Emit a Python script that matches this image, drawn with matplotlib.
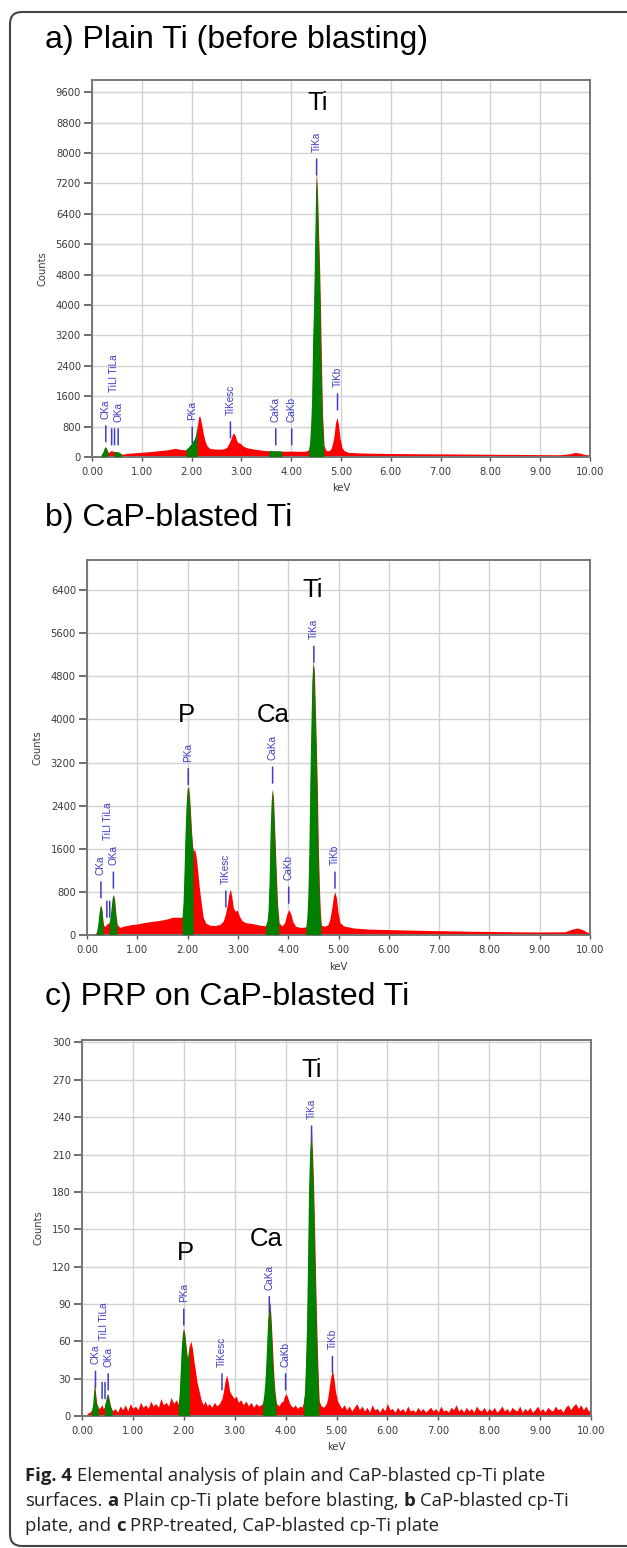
import numpy as np
import matplotlib
matplotlib.use("Agg")
import matplotlib.pyplot as plt
from matplotlib.patches import FancyBboxPatch
from matplotlib.transforms import IdentityTransform

## DATA (keV, counts)
spectrum_a = [(0.10,0),(0.15,30),(0.20,60),(0.23,130),(0.26,240),(0.28,260),(0.30,200),(0.33,110),
    (0.36,150),(0.39,170),(0.42,150),(0.45,140),(0.48,130),(0.51,125),(0.54,120),(0.57,95),(0.60,70),
    (0.70,95),(0.80,105),(0.90,115),(1.00,125),(1.10,135),(1.20,145),(1.30,160),(1.40,175),(1.50,185),
    (1.60,210),(1.67,230),(1.75,205),(1.85,190),(1.90,195),(1.94,240),(1.98,300),(2.02,380),(2.06,450),
    (2.09,560),(2.12,850),(2.14,1040),(2.16,1090),(2.18,1000),(2.21,800),(2.24,580),(2.27,420),(2.31,290),
    (2.36,230),(2.45,210),(2.55,205),(2.65,215),(2.71,260),(2.75,360),(2.79,480),(2.82,590),(2.84,630),
    (2.87,580),(2.90,450),(2.93,370),(2.96,380),(2.99,340),(3.04,280),(3.12,240),(3.25,210),(3.40,180),
    (3.56,160),(3.70,150),(3.82,150),(4.00,155),(4.15,150),(4.30,155),(4.36,200),(4.38,370),(4.40,800),
    (4.42,1500),(4.44,3000),(4.46,4000),(4.48,5500),(4.50,7000),(4.51,7450),(4.53,6900),(4.55,5900),
    (4.57,5000),(4.59,3800),(4.61,2300),(4.63,1100),(4.66,300),(4.70,170),(4.76,165),(4.80,220),(4.83,350),
    (4.86,550),(4.89,900),(4.92,1040),(4.95,850),(4.98,500),(5.02,250),(5.06,170),(5.15,120),(5.40,105),
    (5.80,95),(6.20,90),(6.60,85),(7.00,82),(7.50,78),(8.00,72),(8.50,68),(9.00,62),(9.40,60),(9.60,85),
    (9.70,120),(9.80,100),(9.90,65),(10.00,55)]

spectrum_b = [(0.10,0),(0.15,20),(0.20,60),(0.22,150),(0.24,330),(0.26,480),(0.28,550),(0.30,450),
    (0.32,250),(0.33,180),(0.36,160),(0.40,210),(0.45,230),(0.47,330),(0.49,500),(0.51,680),(0.53,740),
    (0.55,650),(0.57,430),(0.60,200),(0.65,140),(0.75,170),(0.90,195),(1.00,205),(1.10,225),(1.20,240),
    (1.30,255),(1.40,265),(1.50,280),(1.60,300),(1.70,330),(1.80,330),(1.90,330),(1.92,600),(1.94,1200),
    (1.96,1900),(1.98,2400),(2.00,2700),(2.02,2750),(2.04,2550),(2.06,2250),(2.08,1900),(2.10,1650),
    (2.12,1550),(2.14,1600),(2.17,1450),(2.20,1200),(2.23,900),(2.27,600),(2.31,330),(2.36,220),(2.45,180),
    (2.55,175),(2.65,200),(2.71,260),(2.75,380),(2.79,560),(2.82,760),(2.85,850),(2.88,700),(2.91,500),
    (2.95,440),(2.99,460),(3.03,350),(3.08,270),(3.15,230),(3.30,210),(3.45,180),(3.56,170),(3.59,260),
    (3.61,450),(3.63,1000),(3.65,1900),(3.67,2450),(3.69,2700),(3.71,2500),(3.73,2000),(3.75,1500),
    (3.77,1000),(3.79,550),(3.82,220),(3.88,170),(3.93,230),(3.97,380),(4.01,470),(4.05,400),(4.09,250),
    (4.15,160),(4.25,140),(4.36,150),(4.38,300),(4.40,700),(4.42,1500),(4.44,2800),(4.46,3800),(4.48,4700),
    (4.50,5060),(4.52,4900),(4.54,4200),(4.56,3500),(4.58,2700),(4.60,1600),(4.62,900),(4.64,400),
    (4.66,180),(4.72,160),(4.79,190),(4.83,300),(4.87,520),(4.90,720),(4.93,800),(4.96,680),(4.99,420),
    (5.03,230),(5.10,170),(5.30,130),(5.60,110),(6.00,100),(6.50,90),(7.00,80),(7.50,72),(8.00,65),
    (8.50,60),(9.00,55),(9.50,60),(9.65,110),(9.75,130),(9.85,100),(9.95,50),(10.00,45)]

spectrum_c = [(0.10,2),(0.15,3),(0.20,5),(0.22,9),(0.24,20),(0.25,25),(0.27,17),(0.29,10),(0.31,8),
    (0.33,6),(0.36,7),(0.39,9),(0.42,6),(0.45,8),(0.47,11),(0.49,15),(0.51,18),(0.53,14),(0.56,8),
    (0.60,4),(0.65,6),(0.70,3),(0.75,8),(0.80,5),(0.85,9),(0.90,4),(0.95,10),(1.00,6),(1.05,8),(1.10,5),
    (1.15,11),(1.20,7),(1.25,9),(1.30,6),(1.35,12),(1.40,8),(1.45,10),(1.50,7),(1.55,14),(1.60,9),
    (1.65,11),(1.70,8),(1.75,15),(1.80,10),(1.85,13),(1.90,9),(1.92,18),(1.94,35),(1.96,55),(1.98,65),
    (2.00,70),(2.02,66),(2.04,58),(2.06,50),(2.08,45),(2.10,52),(2.12,58),(2.14,60),(2.17,54),(2.20,44),
    (2.23,36),(2.26,27),(2.30,20),(2.34,13),(2.38,9),(2.42,12),(2.46,8),(2.50,10),(2.55,7),(2.60,11),
    (2.65,8),(2.70,10),(2.75,14),(2.78,20),(2.81,28),(2.84,33),(2.87,28),(2.90,20),(2.94,17),(2.99,14),
    (3.03,16),(3.07,11),(3.12,13),(3.17,9),(3.22,12),(3.27,8),(3.32,11),(3.37,7),(3.42,10),(3.47,8),
    (3.52,9),(3.56,11),(3.58,16),(3.60,25),(3.62,40),(3.64,60),(3.66,78),(3.68,88),(3.69,92),(3.71,82),
    (3.73,66),(3.75,48),(3.77,32),(3.79,20),(3.82,10),(3.87,8),(3.91,11),(3.95,12),(3.98,16),(4.01,18),
    (4.04,15),(4.07,11),(4.11,8),(4.15,7),(4.19,9),(4.23,6),(4.28,8),(4.32,7),(4.36,12),(4.38,18),
    (4.40,40),(4.42,70),(4.44,120),(4.46,180),(4.48,210),(4.50,225),(4.51,228),(4.53,210),(4.55,185),
    (4.57,150),(4.59,110),(4.61,75),(4.63,45),(4.66,12),(4.70,8),(4.75,7),(4.80,10),(4.83,15),(4.86,24),
    (4.89,32),(4.92,37),(4.95,30),(4.98,20),(5.02,12),(5.05,10),(5.10,6),(5.15,9),(5.20,5),(5.25,8),
    (5.30,4),(5.35,7),(5.40,10),(5.45,5),(5.50,8),(5.55,4),(5.60,7),(5.65,3),(5.70,9),(5.75,5),(5.80,6),
    (5.85,3),(5.90,7),(5.95,4),(6.00,10),(6.05,5),(6.10,6),(6.15,3),(6.20,7),(6.25,4),(6.30,6),(6.35,3),
    (6.40,8),(6.45,4),(6.50,5),(6.55,3),(6.60,7),(6.65,4),(6.70,6),(6.75,3),(6.80,5),(6.85,7),(6.90,4),
    (6.95,6),(7.00,3),(7.05,8),(7.10,4),(7.15,5),(7.20,3),(7.25,7),(7.30,5),(7.35,9),(7.40,4),(7.45,6),
    (7.50,3),(7.55,7),(7.60,4),(7.65,6),(7.70,3),(7.75,8),(7.80,5),(7.85,4),(7.90,7),(7.95,3),(8.00,6),
    (8.05,4),(8.10,7),(8.15,3),(8.20,5),(8.25,8),(8.30,4),(8.35,6),(8.40,3),(8.45,7),(8.50,5),(8.55,4),
    (8.60,8),(8.65,3),(8.70,6),(8.75,4),(8.80,7),(8.85,3),(8.90,5),(8.95,8),(9.00,4),(9.05,6),(9.10,3),
    (9.15,7),(9.20,5),(9.25,4),(9.30,8),(9.35,5),(9.40,6),(9.45,3),(9.50,7),(9.55,9),(9.60,5),(9.65,8),
    (9.70,10),(9.75,6),(9.80,9),(9.85,5),(9.90,8),(9.95,4),(10.00,6)]

# energy windows drawn green (identified peaks)
green_windows = [(0.20,0.33),(0.45,0.60),(1.90,2.12),(3.56,3.82),(4.36,4.66)]

# peak markers: label, keV, counts at bottom of the blue tick
markers_a = [("CKa",0.277,400),("",0.395,320),("",0.452,320),("OKa",0.525,320),("PKa",2.013,370),
             ("TiKesc",2.78,500),("CaKa",3.69,320),("CaKb",4.01,320),("TiKa",4.51,7420),("TiKb",4.93,1240)]
markers_b = [("CKa",0.277,690),("",0.395,330),("",0.452,330),("OKa",0.525,870),("PKa",2.013,2790),
             ("TiKesc",2.76,520),("CaKa",3.69,2820),("CaKb",4.01,590),("TiKa",4.51,5060),("TiKb",4.93,870)]
markers_c = [("CKa",0.265,23),("",0.395,14),("",0.452,14),("OKa",0.515,21),("PKa",2.00,73),
             ("TiKesc",2.75,21),("CaKa",3.68,83),("CaKb",4.00,21),("TiKa",4.51,220),("TiKb",4.92,35)]
til_label = {"a": (0.44, 1700), "b": (0.42, 1760), "c": (0.43, 61)}

# big element labels: text, keV, counts (centre)
elements_a = [("Ti",4.54,9310)]
elements_b = [("Ti",4.49,6400),("P",1.97,4080),("Ca",3.70,4080)]
elements_c = [("Ti",4.51,278),("Ca",3.61,142),("P",2.04,131)]

yticks_a = np.arange(0, 9601, 800)
yticks_b = np.arange(0, 6401, 800)
yticks_c = np.arange(0, 301, 30)
xticks = np.arange(0, 11, 1)

titles = ["a) Plain Ti (before blasting)", "b) CaP-blasted Ti", "c) PRP on CaP-blasted Ti"]

## PLOT
W, H = 627, 1548
fig = plt.figure(figsize=(W/100, H/100), dpi=100)

RED = "#ff0000"
GREEN = "#008000"
BLUE = "#3c3cc8"

def px_axes(left, right, top, bottom):
    return fig.add_axes([left/W, 1-bottom/H, (right-left)/W, (bottom-top)/H])

panels = [
    (px_axes(92, 590, 80, 457), spectrum_a, markers_a, elements_a, yticks_a, 9920, "a", 40, 488),
    (px_axes(87, 590, 560, 935), spectrum_b, markers_b, elements_b, yticks_b, 6960, "b", 518, 967),
    (px_axes(82, 591, 1040, 1416), spectrum_c, markers_c, elements_c, yticks_c, 302, "c", 997, 1447),
]

for i, (ax, spec, marks, elems, yt, ytop, key, title_y, keV_y) in enumerate(panels):
    x = np.array([p[0] for p in spec])
    y = np.array([p[1] for p in spec])
    ax.fill_between(x, y, 0, color=RED, lw=0, zorder=2)
    mask = np.zeros(len(x), bool)
    for lo, hi in green_windows:
        mask |= (x >= lo - 1e-9) & (x <= hi + 1e-9)
    ax.fill_between(x, y, 0, where=mask, color=GREEN, lw=0, zorder=3)

    ax.set_xlim(0, 10)
    ax.set_ylim(0, ytop)
    ax.set_xticks(xticks)
    ax.set_xticklabels(["%.2f" % t for t in xticks])
    ax.set_yticks(yt)
    ax.set_yticklabels(["%d" % t for t in yt])
    ax.grid(True, color="#d2d2d2", lw=1, zorder=0)
    ax.set_axisbelow(True)
    for s in ax.spines.values():
        s.set_color("#777777")
        s.set_linewidth(1.4)
    ax.tick_params(axis="y", length=6, width=1.2, color="#555555", labelsize=7.2,
                   labelcolor="#3a3a3a", pad=2)
    ax.tick_params(axis="x", length=3, width=1, color="#555555", labelsize=7.2,
                   labelcolor="#3a3a3a", pad=4)
    ax.set_ylabel("Counts", fontsize=7.2, color="#3a3a3a", labelpad=6)

    for name, kev, base in marks:
        ax.annotate("", xy=(kev, base), xytext=(0, 16), textcoords="offset pixels",
                    arrowprops=dict(arrowstyle="-", color=BLUE, lw=1.1, shrinkA=0, shrinkB=0),
                    zorder=5)
        if name:
            ax.annotate(name, xy=(kev, base), xytext=(0, 23), textcoords="offset pixels",
                        rotation=90, ha="center", va="bottom", fontsize=7.2, color=BLUE,
                        family="Liberation Sans", zorder=5)
    tx, ty = til_label[key]
    ax.text(tx, ty, "TiLl TiLa", rotation=90, ha="center", va="bottom", fontsize=7.2,
            color=BLUE, family="Liberation Sans", zorder=5)

    for name, kev, cnt in elems:
        ax.text(kev, cnt, name, ha="center", va="center", fontsize=18.5,
                family="Liberation Sans", color="black", zorder=6)

    fig.text(45/W, 1-title_y/H, titles[i], fontsize=23, family="Liberation Sans",
             ha="left", va="center")
    fig.text(((ax.get_position().x0 + ax.get_position().x1)/2), 1-keV_y/H, "keV",
             fontsize=7.2, color="#3a3a3a", ha="center", va="center")

## caption with bold runs
renderer = fig.canvas.get_renderer()
cap_size = 13.3

def text_width(s, weight):
    t = fig.text(0, 0, s, fontsize=cap_size, family="Open Sans", fontweight=weight)
    w = t.get_window_extent(renderer).width
    t.remove()
    return w

space_w = text_width("x x", "normal") - text_width("xx", "normal")

caption = [
    [("Fig. 4", "bold"), ("Elemental analysis of plain and CaP-blasted cp-Ti plate", "normal")],
    [("surfaces.", "normal"), ("a", "bold"), ("Plain cp-Ti plate before blasting,", "normal"),
     ("b", "bold"), ("CaP-blasted cp-Ti", "normal")],
    [("plate, and", "normal"), ("c", "bold"), ("PRP-treated, CaP-blasted cp-Ti plate", "normal")],
]
cap_y = [1481, 1506, 1531]
for line, ybase in zip(caption, cap_y):
    xpos = 25
    for s, weight in line:
        t = fig.text(xpos/W, 1-ybase/H, s, fontsize=cap_size, family="Open Sans",
                     fontweight=weight, ha="left", va="baseline", color="#222222")
        xpos += t.get_window_extent(renderer).width + space_w

## outer rounded frame
frame = FancyBboxPatch((10, H-1546), 640, 1534, boxstyle="round,pad=0,rounding_size=12",
                       transform=IdentityTransform(), fill=False, ec="#444444", lw=1.5)
fig.add_artist(frame)

fig.savefig("out.png", dpi=100)
